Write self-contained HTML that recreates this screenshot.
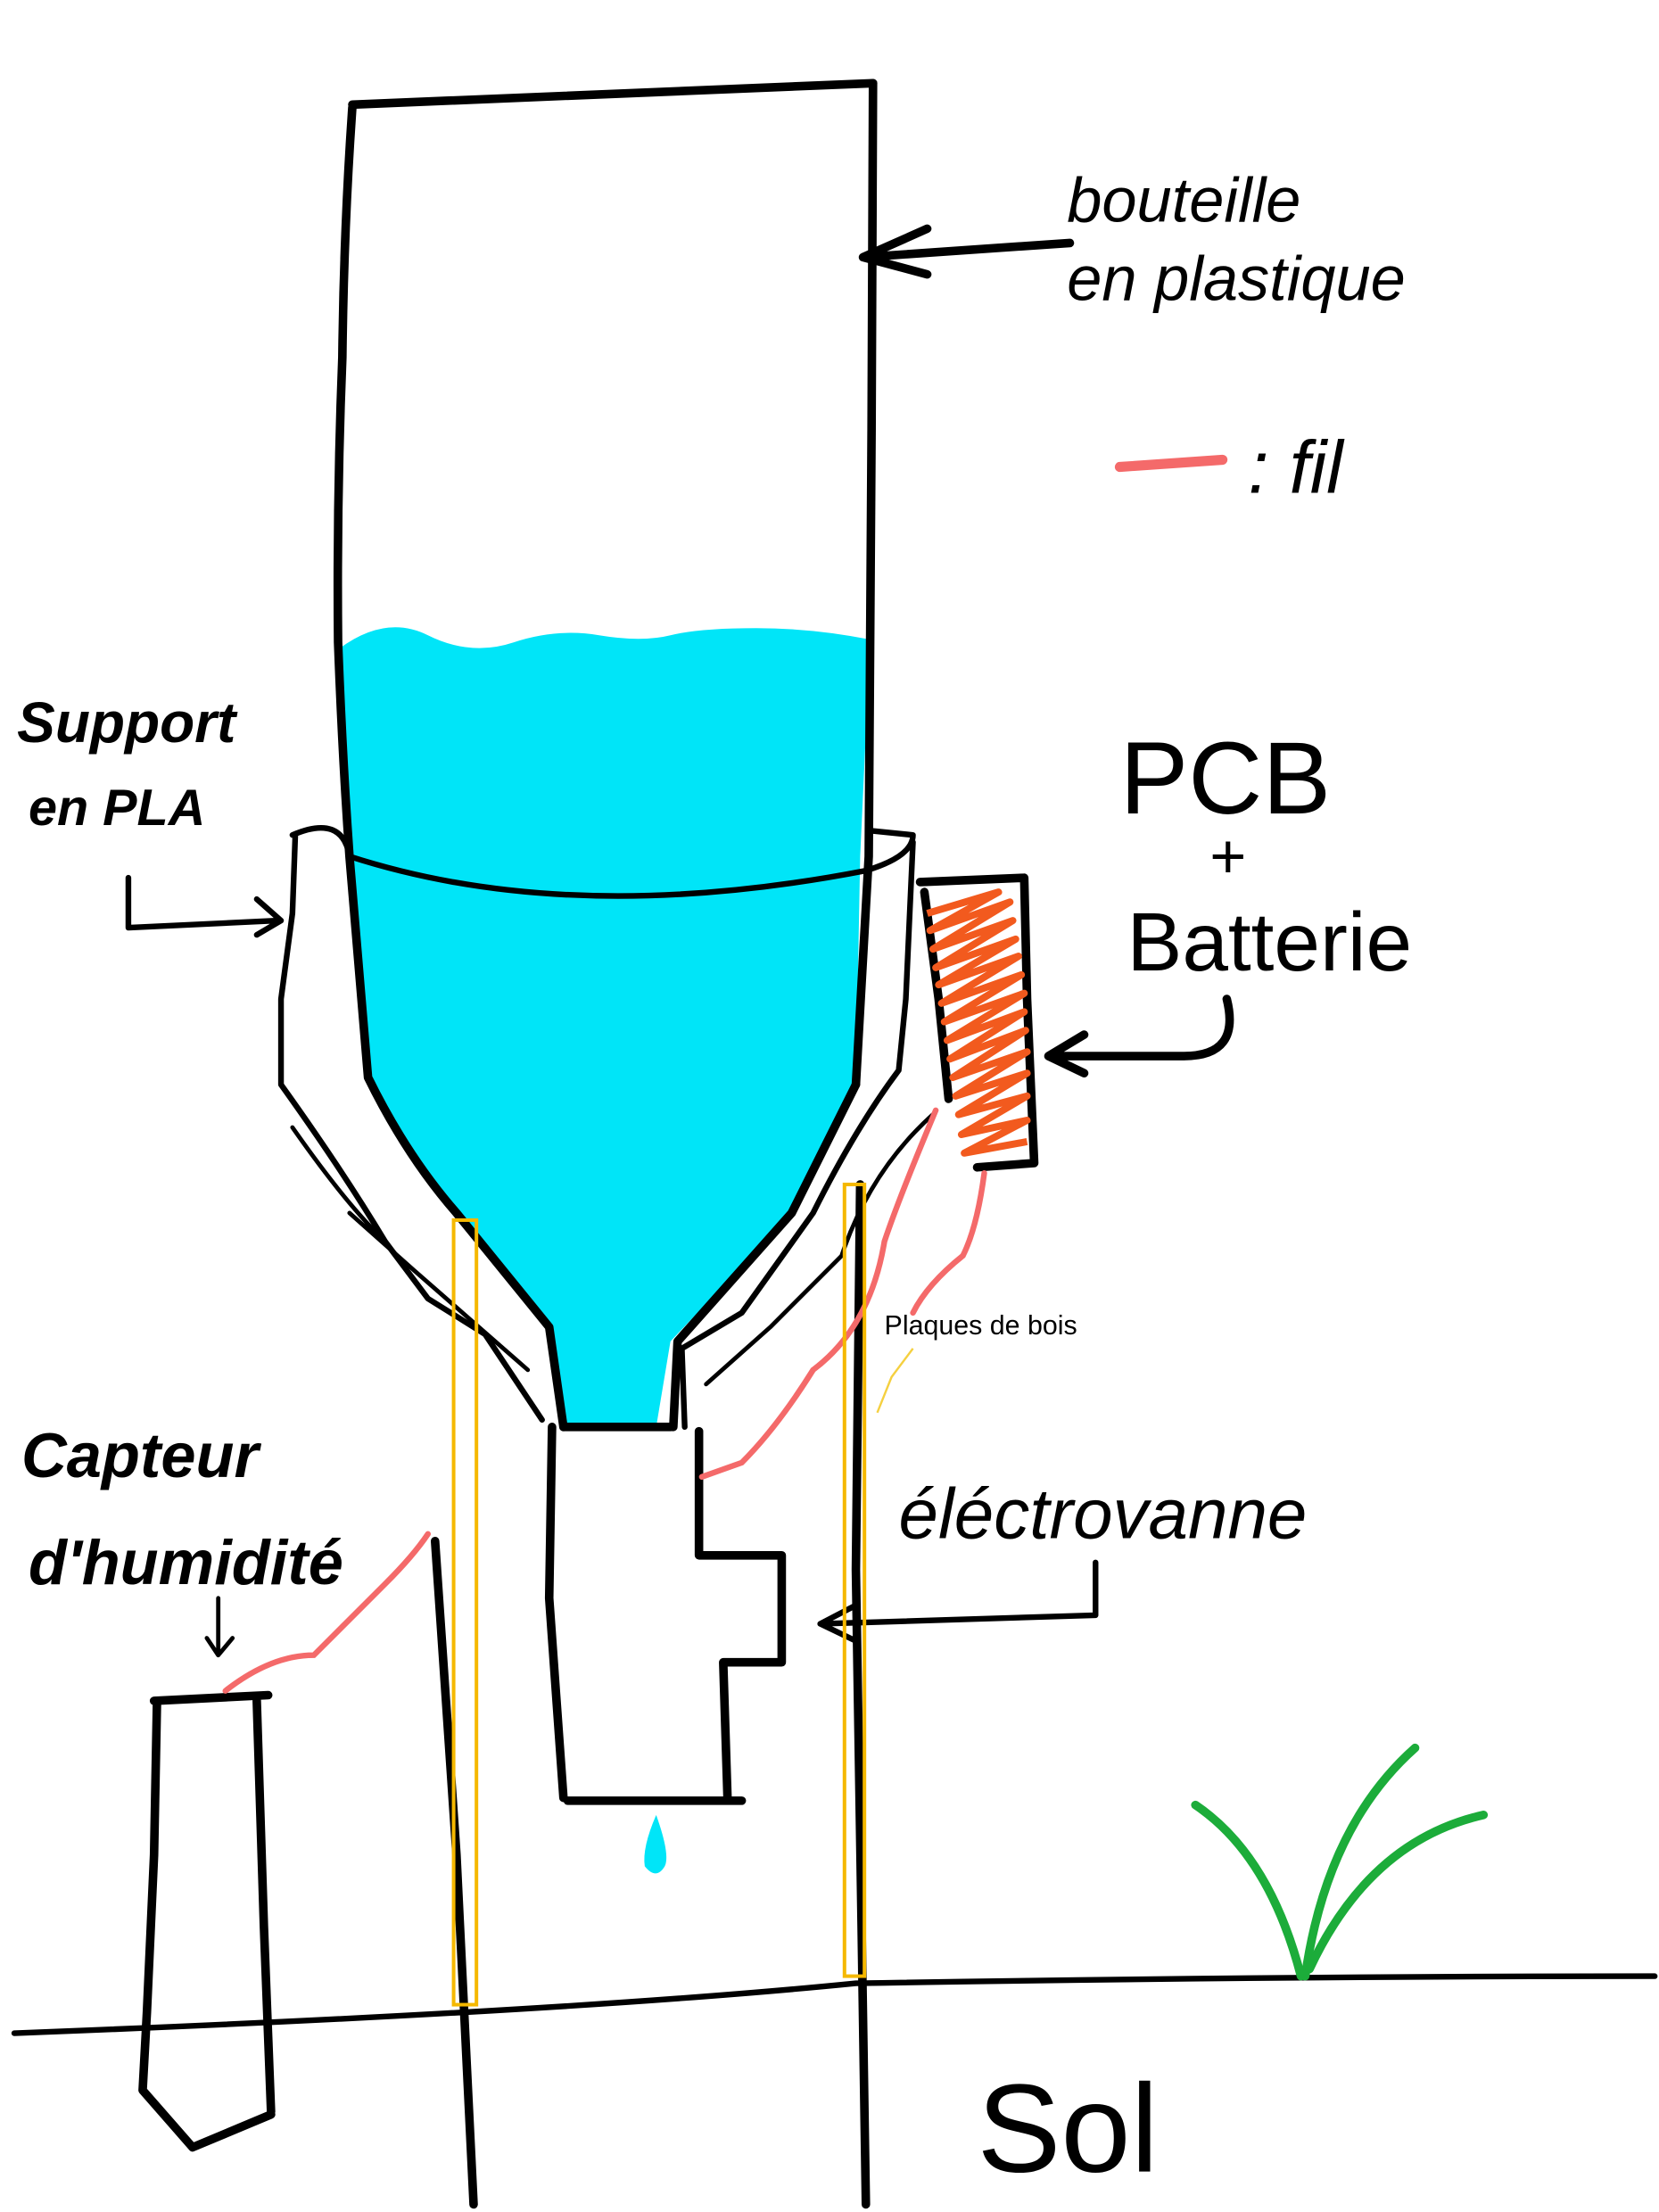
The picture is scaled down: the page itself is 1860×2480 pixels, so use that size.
<!DOCTYPE html>
<html><head><meta charset="utf-8"><style>
html,body{margin:0;padding:0;background:#fff;}
svg{display:block;}
</style></head><body>
<svg width="1860" height="2480" viewBox="0 0 1163 1550" xmlns="http://www.w3.org/2000/svg">
<rect width="1163" height="1550" fill="#fff"/>
<!-- water -->
<path d="M237,455 Q270,430 300,445 T360,450 T420,445 T470,445 T530,440 T610,448 L603,600 L600,760 Q580,800 555,850 L470,940 L460,1000 L397,1000 L385,930 L320,850 Q280,800 258,755 L245,600 Z" fill="#00e5f8"/>
<g fill="none" stroke="#000" stroke-width="6" stroke-linecap="round" stroke-linejoin="round">
<!-- bottle -->
<path d="M247,73 L612,58"/>
<path d="M247,75 Q241,160 240,250 Q236,350 237,450 Q240,530 245,600 L258,755 Q285,810 320,850 L385,930 L395,1000"/>
<path d="M612,58 L611,300 L609,600 L600,760"/>
<path d="M600,760 Q580,800 555,850 L475,940 L472,1000"/>
<path d="M395,1000 L470,1000"/>
<!-- support PLA -->
<path d="M205,585 Q240,570 245,600 Q400,650 607,610 Q640,600 640,585 L610,582" stroke-width="4"/>
<path d="M207,585 L205,640 L197,700 L197,760 Q240,820 270,870 L300,910 L340,935 L380,995" stroke-width="4"/>
<path d="M205,790 Q240,840 265,865 M245,850 L290,890 L330,925 L370,960" stroke-width="3"/>
<path d="M640,590 L635,700 L630,750 Q600,790 570,850 L520,920 L478,945 L480,1000" stroke-width="4"/>
<path d="M655,780 Q610,820 590,880 L540,930 L495,970" stroke-width="3"/>
<!-- electrovanne -->
<path d="M387,1000 L385,1120 L395,1260"/>
<path d="M490,1003 L490,1090 L548,1090 L548,1165 L507,1165 L510,1260"/>
<path d="M398,1262 L520,1262"/>
<!-- poles -->
<path d="M305,1080 L320,1300 L332,1545"/>
<path d="M603,830 L600,1100 L604,1350 L607,1545"/>
<!-- ground -->
<path d="M10,1425 Q400,1410 600,1390 Q900,1385 1160,1385" stroke-width="4"/>
<!-- sensor -->
<path d="M108,1192 L188,1188"/>
<path d="M110,1195 L108,1300 L103,1410 L100,1465 L135,1505 L190,1482"/>
<path d="M180,1192 L185,1350 L190,1480"/>
<!-- PCB box -->
<path d="M645,618 L718,615 L720,700 L725,815 L685,818"/>
<path d="M648,625 L658,700 L665,770"/>
<!-- arrows -->
<path d="M750,170 L605,180 M650,160 L605,180 L650,192"/>
<path d="M860,700 Q870,740 830,740 L735,740 M760,725 L735,740 L760,752"/>
<path d="M768,1095 L768,1132 L575,1138 M600,1125 L575,1138 L600,1150" stroke-width="4"/>
<path d="M90,615 L90,650 L195,645 M180,630 L197,645 L180,655" stroke-width="4"/>
<path d="M153,1120 L153,1160 M145,1148 L153,1160 L163,1148" stroke-width="3"/>
</g>
<!-- orange scribble -->
<path d="M650,640 L700,625 L652,652 L708,632 L654,665 L710,645 L656,678 L712,658 L658,690 L714,670 L660,703 L716,683 L662,716 L718,696 L664,729 L718,709 L666,742 L719,722 L668,755 L720,737 L670,768 L720,752 L672,781 L720,768 L674,795 L720,785 L676,808 L720,800" fill="none" stroke="#f25a1e" stroke-width="5" stroke-linejoin="round"/>
<!-- red wires -->
<g fill="none" stroke="#f46a6a" stroke-width="4" stroke-linecap="round">
<path d="M785,327 L857,322" stroke-width="7"/>
<path d="M656,778 Q630,840 620,870 Q610,930 570,960 Q545,1000 520,1025 L492,1035"/>
<path d="M690,822 Q685,860 675,880 Q650,900 640,920"/>
<path d="M158,1185 Q190,1160 220,1160 Q250,1130 270,1110 Q290,1090 300,1075"/>
</g>
<!-- orange rects -->
<rect x="318" y="855" width="16" height="550" fill="none" stroke="#f5b800" stroke-width="2.5"/>
<rect x="592" y="830" width="14" height="555" fill="none" stroke="#f5b800" stroke-width="2.5"/>
<path d="M640,945 L625,965 L615,990" stroke="#f5d040" stroke-width="1.5" fill="none"/>
<!-- drop -->
<path d="M460,1272 Q470,1300 466,1308 Q460,1318 452,1308 Q450,1295 460,1272 Z" fill="#00e5f8"/>
<!-- grass -->
<g fill="none" stroke="#1cac3a" stroke-width="6" stroke-linecap="round">
<path d="M912,1385 Q890,1300 838,1265"/>
<path d="M915,1385 Q930,1280 992,1225"/>
<path d="M918,1380 Q960,1290 1040,1272"/>
</g>
<!-- labels -->
<g font-family="Liberation Sans, sans-serif" fill="#000">
<text x="748" y="155" font-size="44" font-style="italic">bouteille</text>
<text x="748" y="210" font-size="44" font-style="italic">en plastique</text>
<text x="875" y="345" font-size="52" font-style="italic">: fil</text>
<text x="12" y="520" font-size="40" font-style="italic" font-weight="bold">Support</text>
<text x="20" y="578" font-size="36" font-style="italic" font-weight="bold">en PLA</text>
<text x="785" y="570" font-size="72">PCB</text>
<text x="848" y="615" font-size="44">+</text>
<text x="790" y="680" font-size="58">Batterie</text>
<text x="620" y="935" font-size="19">Plaques de bois</text>
<text x="630" y="1078" font-size="50" font-style="italic">éléctrovanne</text>
<text x="15" y="1035" font-size="44" font-style="italic" font-weight="bold">Capteur</text>
<text x="20" y="1110" font-size="44" font-style="italic" font-weight="bold">d'humidité</text>
<text x="685" y="1522" font-size="88" font-family="Liberation Sans, sans-serif" font-weight="300">Sol</text>
</g>
</svg>
</body></html>
